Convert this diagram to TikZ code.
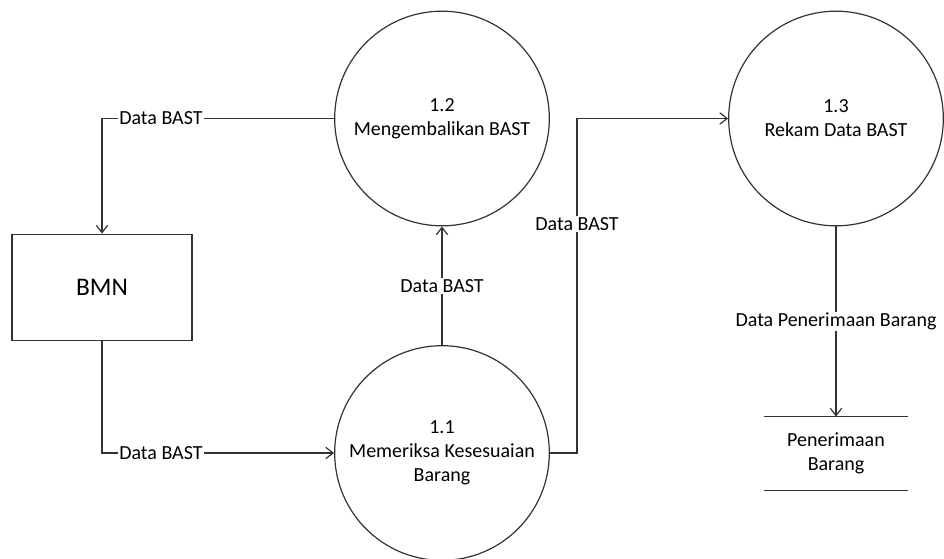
\documentclass[tikz,border=0pt]{standalone}
\usepackage{fontspec}
\setmainfont{Carlito}
\usetikzlibrary{arrows.meta}
\begin{document}
\begin{tikzpicture}[x=0.75pt, y=-0.75pt,
  every node/.style={font=\fontsize{15}{18}\selectfont, text=black},
  process/.style={draw=black!80, line width=0.9pt, circle, minimum size=161pt,
    inner sep=0pt, align=center},
  entity/.style={draw=black!80, line width=0.9pt, minimum width=135pt,
    minimum height=80pt, inner sep=0pt, font=\fontsize{19}{22}\selectfont},
  store/.style={minimum width=108pt, minimum height=55pt, inner sep=0pt, align=center},
  flow/.style={draw=black!80, line width=0.9pt,
    -{Straight Barb[length=5.5pt, width=8.5pt, line width=0.9pt]}},
  lbl/.style={fill=white, inner sep=1pt}]
  \useasboundingbox (0,0) rectangle (944,558);

  % processes, entity and data store
  \node[process] (p12) at (442,118.5) {1.2\\Mengembalikan BAST};
  \node[process] (p11) at (442,453) {1.1\\Memeriksa Kesesuaian\\Barang};
  \node[process] (p13) at (836,118.5) {1.3\\Rekam Data BAST};
  \node[entity] (bmn) at (102,287.5) {BMN};
  \node[store] (ds) at (836,453.5) {Penerimaan\\Barang};
  \draw[draw=black!80, line width=0.9pt] (ds.north west) -- (ds.north east);
  \draw[draw=black!80, line width=0.9pt] (ds.south west) -- (ds.south east);

  % helper corners
  \coordinate (c1) at (577,453);
  \coordinate (c2) at (577,118.5);

  % data flows
  \draw[flow] (p12.west) -- node[lbl, pos=0.746] {Data BAST} (bmn.north |- p12.west) -- (bmn.north);
  \draw[flow] (bmn.south) -- (bmn.south |- p11.west) -- node[lbl, pos=0.254] {Data BAST} (p11.west);
  \draw[flow] (p11.north) -- node[lbl] {Data BAST} (p12.south);
  \draw[flow] (p11.east) -- (c1) -- node[lbl, pos=0.684] {Data BAST} (c2) -- (p13.west);
  \draw[flow] (p13.south) -- node[lbl] {Data Penerimaan Barang} (ds.north);
\end{tikzpicture}
\end{document}
